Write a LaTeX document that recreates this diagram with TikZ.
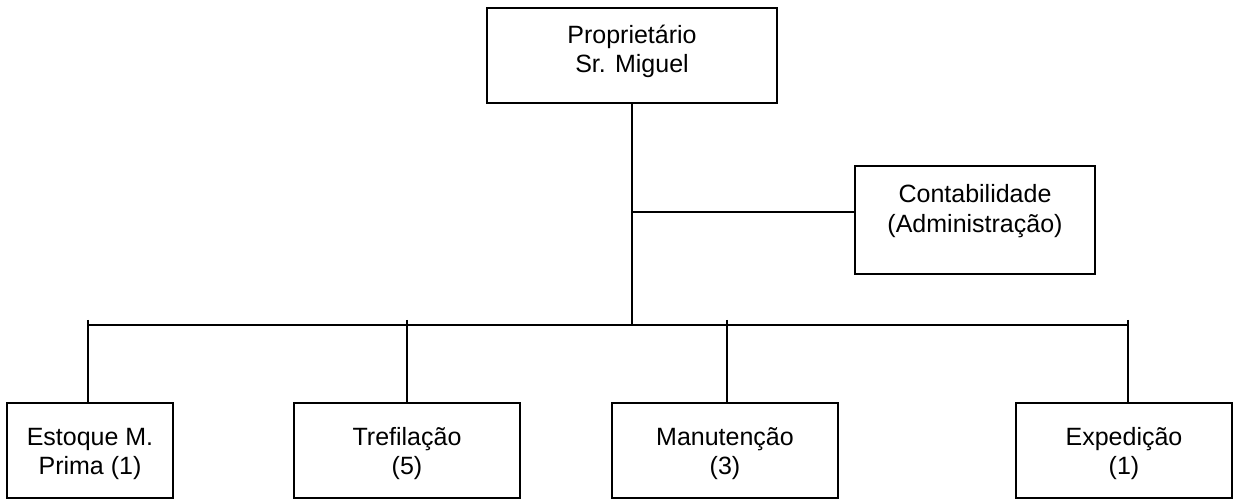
\documentclass[tikz,border=0pt]{standalone}
\usepackage{fontspec}
\setmainfont{Liberation Sans}
\begin{document}
\begin{tikzpicture}[x=1pt,y=-1pt,
  font=\fontsize{25}{29.5}\selectfont,
  box/.style={draw, line width=1.6pt, inner sep=0pt, align=center},
  conn/.style={line width=1.6pt}]
\useasboundingbox (0,0) rectangle (1240,502);
% boxes
\node[box, minimum width=290, minimum height=95] (prop) at (632,55.5) {Proprietário\\Sr. Miguel\\[-16pt]\mbox{}};
\node[box, minimum width=240, minimum height=108] (cont) at (975,220) {Contabilidade\\(Administração)\\[-6pt]\mbox{}};
\node[box, minimum width=166, minimum height=95] (b1) at (90,450.5) {\mbox{}\\[-5pt]Estoque M.\\Prima (1)};
\node[box, minimum width=226, minimum height=95] (b2) at (407,450.5) {\mbox{}\\[-5pt]Trefilação\\(5)};
\node[box, minimum width=226, minimum height=95] (b3) at (725,450.5) {\mbox{}\\[-5pt]Manutenção\\(3)};
\node[box, minimum width=216, minimum height=95] (b4) at (1124,450.5) {\mbox{}\\[-5pt]Expedição\\(1)};
% junction points
\coordinate (j) at (632,325);
\coordinate (cj) at (632,212);
\coordinate (t1) at (88,320);
\coordinate (t2) at (407,320);
\coordinate (t3) at (727,320);
\coordinate (t4) at (1128,320);
% connectors
\draw[conn] (prop.south) -- (j);
\draw[conn] (cj) -- (cj -| cont.west);
\draw[conn] (t1 |- j) -- (t4 |- j);
\draw[conn] (t1) -- (t1 |- b1.north);
\draw[conn] (t2) -- (t2 |- b2.north);
\draw[conn] (t3) -- (t3 |- b3.north);
\draw[conn] (t4) -- (t4 |- b4.north);
\end{tikzpicture}
\end{document}
